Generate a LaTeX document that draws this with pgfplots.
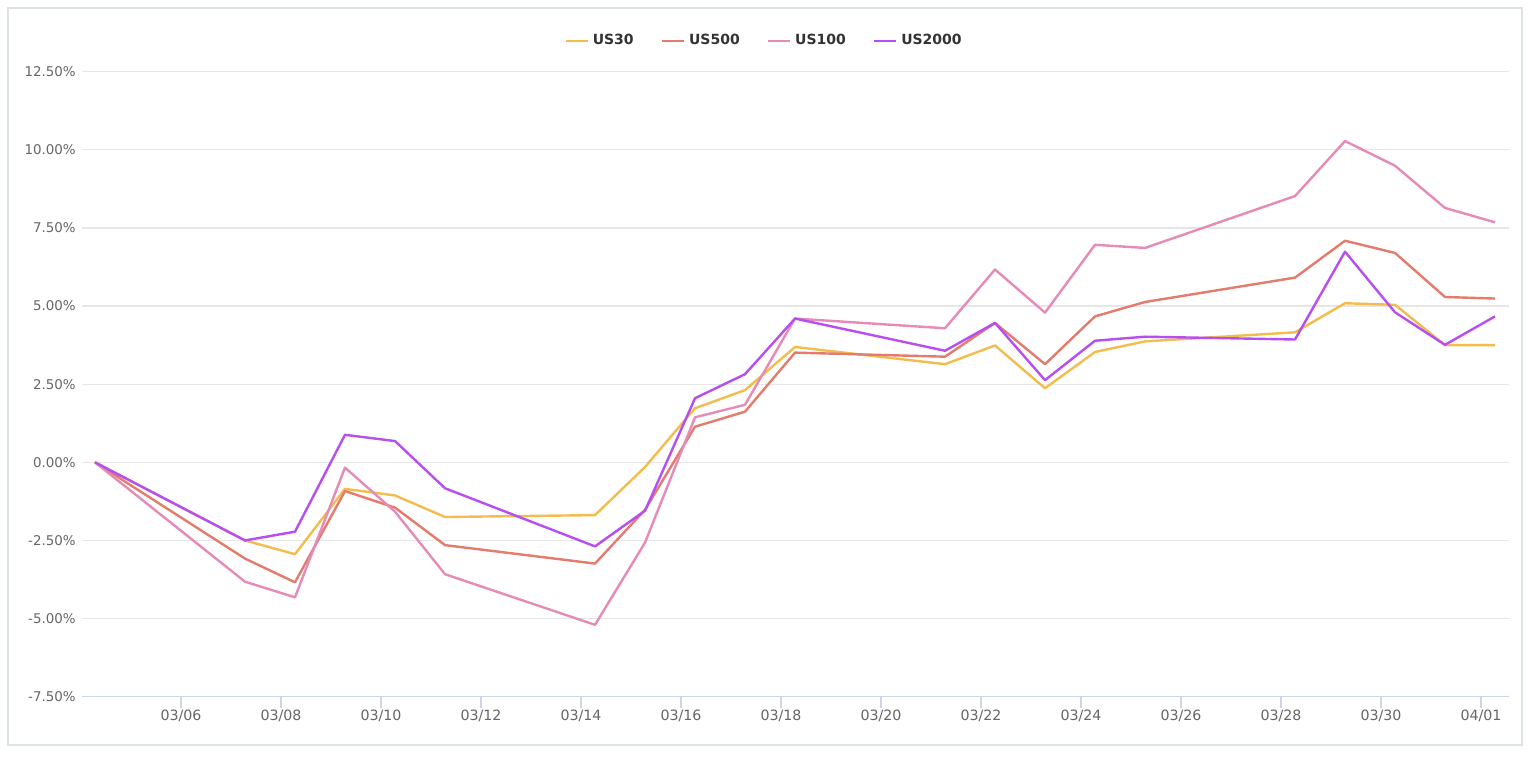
\documentclass[border=0pt]{standalone}
\usepackage{pgfplots}
\pgfplotsset{compat=1.18}
\usepackage{fontspec}
\setmainfont{DejaVu Sans}
\definecolor{cUSa}{HTML}{F2BD4D}
\definecolor{cUSb}{HTML}{E37C6D}
\definecolor{cUSc}{HTML}{E68AB8}
\definecolor{cUSd}{HTML}{B74EF2}
\definecolor{borderc}{HTML}{DCE4E7}
\definecolor{axisc}{HTML}{CCD6EB}
\definecolor{gridc}{HTML}{E6E6E6}
\definecolor{labc}{HTML}{666666}
\definecolor{legc}{HTML}{333333}
\begin{document}
\begin{tikzpicture}
\path[use as bounding box] (-41pt,-30.65pt) rectangle (726pt,348.35pt);
\fill[white] (-41pt,-30.65pt) rectangle (726pt,348.35pt);
\draw[color=borderc, line width=1pt] (-37pt,-24.15pt) rectangle (720pt,344.35pt);
\begin{axis}[
  scale only axis, width=713.25pt, height=312.5pt,
  xmin=4.02, xmax=32.55, ymin=-7.5, ymax=12.5,
  axis x line*=bottom, axis y line*=left,
  y axis line style={draw=none},
  x axis line style={color=axisc, line width=0.6pt},
  ytick={-7.5,-5,-2.5,0,2.5,5,7.5,10,12.5},
  yticklabels={-7.50\%,-5.00\%,-2.50\%,0.00\%,2.50\%,5.00\%,7.50\%,10.00\%,12.50\%},
  ytick style={draw=none},
  ymajorgrids, grid style={color=gridc, line width=0.6pt},
  xtick={6,8,10,12,14,16,18,20,22,24,26,28,30,32},
  xticklabels={03/06,03/08,03/10,03/12,03/14,03/16,03/18,03/20,03/22,03/24,03/26,03/28,03/30,04/01},
  xtick style={color=axisc, line width=0.6pt},
  tick align=outside, major tick length=5.5pt,
  tick label style={font=\fontsize{6.7}{8}\selectfont, text=labc},
  yticklabel style={anchor=east, inner sep=0pt, xshift=2.5pt},
  xticklabel style={anchor=north, inner sep=0pt, yshift=-1pt, font=\fontsize{7.1}{8}\selectfont},
  legend style={at={(0.4788,1.049)}, anchor=center, draw=none, fill=none,
    legend columns=4, font=\fontsize{7}{8}\selectfont\bfseries, text=legc,
    /tikz/every even column/.append style={column sep=11.5pt}},
  legend image code/.code={\draw[#1] (0pt,0pt) -- (11pt,0pt);},
  every axis plot/.append style={line width=1.2pt, line join=round},
]
\addplot[color=cUSa, mark=none] coordinates {
(4.28,0) (7.28,-2.5) (8.28,-2.94) (9.28,-0.85) (10.28,-1.06) (11.28,-1.75)
(14.28,-1.69) (15.28,-0.15) (16.28,1.73) (17.28,2.31) (18.28,3.69)
(21.28,3.14) (22.28,3.74) (23.28,2.37) (24.28,3.53) (25.28,3.87)
(28.28,4.16) (29.28,5.09) (30.28,5.04) (31.28,3.75) (32.28,3.75)};
\addlegendentry{US30}
\addplot[color=cUSb, mark=none] coordinates {
(4.28,0) (7.28,-3.08) (8.28,-3.84) (9.28,-0.92) (10.28,-1.45) (11.28,-2.65)
(14.28,-3.24) (15.28,-1.52) (16.28,1.14) (17.28,1.62) (18.28,3.51)
(21.28,3.38) (22.28,4.46) (23.28,3.14) (24.28,4.67) (25.28,5.13)
(28.28,5.91) (29.28,7.09) (30.28,6.70) (31.28,5.29) (32.28,5.24)};
\addlegendentry{US500}
\addplot[color=cUSc, mark=none] coordinates {
(4.28,0) (7.28,-3.82) (8.28,-4.32) (9.28,-0.17) (10.28,-1.58) (11.28,-3.58)
(14.28,-5.20) (15.28,-2.57) (16.28,1.44) (17.28,1.84) (18.28,4.60)
(21.28,4.29) (22.28,6.17) (23.28,4.79) (24.28,6.96) (25.28,6.86)
(28.28,8.52) (29.28,10.28) (30.28,9.49) (31.28,8.14) (32.28,7.68)};
\addlegendentry{US100}
\addplot[color=cUSd, mark=none] coordinates {
(4.28,0) (7.28,-2.5) (8.28,-2.22) (9.28,0.88) (10.28,0.68) (11.28,-0.83)
(14.28,-2.69) (15.28,-1.55) (16.28,2.05) (17.28,2.82) (18.28,4.60)
(21.28,3.57) (22.28,4.46) (23.28,2.63) (24.28,3.89) (25.28,4.02)
(28.28,3.93) (29.28,6.74) (30.28,4.80) (31.28,3.76) (32.28,4.67)};
\addlegendentry{US2000}
\end{axis}
\end{tikzpicture}
\end{document}
